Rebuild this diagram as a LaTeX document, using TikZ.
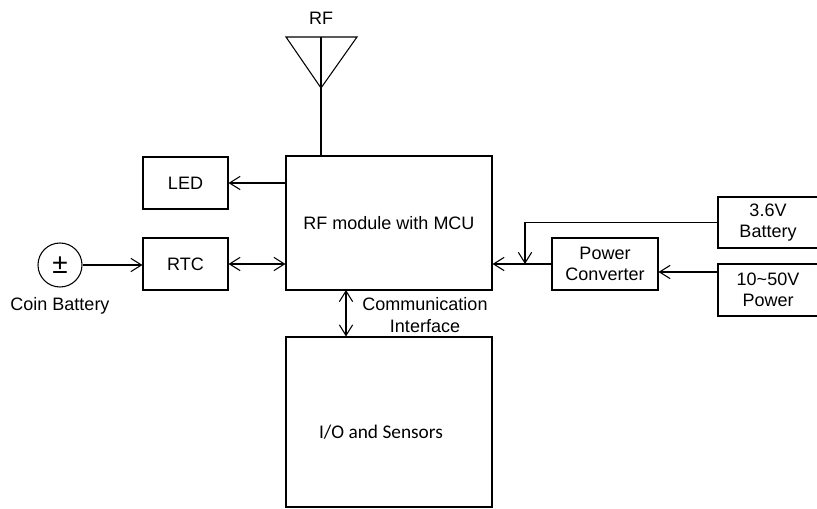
\documentclass[tikz,border=0pt]{standalone}
\usepackage{fontspec}
\setmainfont{Liberation Sans}
\newfontfamily\iofont{Carlito}
\usetikzlibrary{arrows.meta}

\tikzset{
  blk/.style={draw, line width=0.8pt, inner sep=0pt, align=center, font=\fontsize{13.5}{16}\selectfont},
  wire/.style={line width=0.8pt},
  >={Straight Barb[length=8pt,width=10pt,line width=0.8pt]}
}

\begin{document}
\begin{tikzpicture}[x=0.75pt, y=-0.75pt]

  % Fix the frame to the reference size
  \useasboundingbox (0,0) rectangle (817,509);

  % Main blocks
  \node[blk, minimum width=206*0.75pt, minimum height=134*0.75pt] (mcu) at (389,223) {RF module with MCU};
  \node[blk, minimum width=206*0.75pt, minimum height=170*0.75pt] (io) at (389,422) {};
  \node[font=\iofont\fontsize{14.5}{16}\selectfont] (iolbl) at (381,432) {I/O and Sensors};

  % Left side blocks
  \node[blk, minimum width=85*0.75pt, minimum height=52*0.75pt] (led) at (185.5,183) {LED};
  \node[blk, minimum width=85*0.75pt, minimum height=52*0.75pt] (rtc) at (185.5,264) {RTC};
  \node[blk, circle, minimum size=44*0.75pt, font=\fontsize{21}{21}\selectfont] (coin) at (60,265) {±};
  \node[font=\fontsize{13.5}{16}\selectfont] (coinlbl) at (60,306) {Coin Battery};

  % Right side blocks
  \node[blk, minimum width=106*0.75pt, minimum height=52*0.75pt] (conv) at (605,264) {Power\\Converter};
  \node[blk, minimum width=100*0.75pt, minimum height=51*0.75pt] (bat) at (768,222.5) {3.6V\\Battery};
  \node[blk, minimum width=100*0.75pt, minimum height=52*0.75pt] (pwr) at (768,290) {10\textasciitilde 50V\\Power};

  % Antenna
  \coordinate (antL) at (286,37);
  \coordinate (antR) at (357,37);
  \coordinate (antM) at (321,37);
  \coordinate (antP) at (321,88);
  \draw[wire] (antL) -- (antR) -- (antP) -- cycle;
  \draw[wire] (antM) -- (antM |- mcu.north);
  \node[font=\fontsize{13.5}{16}\selectfont] (rflbl) at (321,18) {RF};

  % Left connections
  \draw[wire, ->] (mcu.west |- led.east) -- (led.east);
  \draw[wire, <->] (rtc.east) -- (mcu.west |- rtc.east);
  \draw[wire, ->] (coin.east) -- (rtc.west |- coin.east);

  % Communication interface
  \coordinate (comm) at (346,290);
  \draw[wire, <->] (comm) -- (comm |- io.north);
  \node[font=\fontsize{13.5}{16}\selectfont, align=center] (commlbl) at (425,315) {Communication\\Interface};

  % Power path
  \coordinate (join) at (525,264);
  \draw[wire, ->] (bat.west) -- (join |- bat.west) -- (join);
  \draw[wire, ->] (conv.west) -- (mcu.east |- conv.west);
  \coordinate (pin) at (718,272);
  \draw[wire, ->] (pin) -- (conv.east |- pin);

\end{tikzpicture}
\end{document}
